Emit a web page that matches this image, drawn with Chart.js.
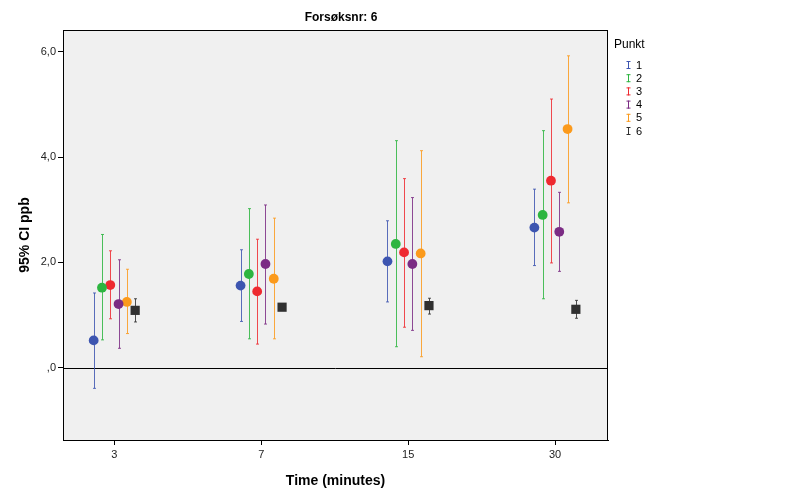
<!DOCTYPE html>
<html>
<head>
<meta charset="utf-8">
<script src="https://cdn.jsdelivr.net/npm/chart.js@4/dist/chart.umd.min.js"></script>
<style>
  html, body { margin: 0; padding: 0; background: #fff; }
  #wrap { width: 812px; height: 501px; position: relative; }
</style>
</head>
<body>
<div id="wrap"><canvas id="chart"></canvas></div>
<script>
// time points on the x axis
const times = ['3', '7', '15', '30'];
const punkter = ['1', '2', '3', '4', '5', '6'];
const colors = ['#3d55b0', '#2db540', '#ee2a30', '#7b2c84', '#fb9a1c', '#303030'];

// mean per punkt, one value per time point
const mean1 = [0.52, 1.56, 2.02, 2.66];
const mean2 = [1.52, 1.78, 2.35, 2.90];
const mean3 = [1.57, 1.45, 2.19, 3.55];
const mean4 = [1.21, 1.97, 1.97, 2.58];
const mean5 = [1.25, 1.69, 2.17, 4.53];
const mean6 = [1.09, 1.15, 1.18, 1.11];

// 95% CI lower / upper
const lo1 = [-0.39, 0.88, 1.25, 1.94];
const hi1 = [1.42, 2.24, 2.79, 3.39];
const lo2 = [0.53, 0.55, 0.40, 1.31];
const hi2 = [2.53, 3.02, 4.31, 4.50];
const lo3 = [0.93, 0.45, 0.77, 1.99];
const hi3 = [2.22, 2.44, 3.59, 5.10];
const lo4 = [0.37, 0.83, 0.71, 1.83];
const hi4 = [2.05, 3.09, 3.23, 3.33];
const lo5 = [0.65, 0.55, 0.21, 3.13];
const hi5 = [1.87, 2.84, 4.12, 5.92];
const lo6 = [0.87, 1.12, 1.02, 0.94];
const hi6 = [1.31, 1.18, 1.32, 1.28];

const yTicks = [0, 2, 4, 6];

const means = [mean1, mean2, mean3, mean4, mean5, mean6];
const lows = [lo1, lo2, lo3, lo4, lo5, lo6];
const highs = [hi1, hi2, hi3, hi4, hi5, hi6];
const step = 0.0565; // dodge between punkter within a time group

const datasets = punkter.map((p, k) => ({
  label: p,
  data: means[k].map((v, i) => ({ x: i + (k - 2.5) * step, y: v })),
  lo: lows[k],
  hi: highs[k],
  backgroundColor: colors[k],
  borderColor: colors[k],
  borderWidth: 0,
  pointStyle: k === 5 ? 'rect' : 'circle',
  pointRadius: k === 5 ? 6.5 : 4.9,
  showLine: false,
}));

const frame = {
  id: 'frame',
  beforeDraw(chart) {
    const { ctx, chartArea: a } = chart;
    ctx.save();
    ctx.fillStyle = '#f0f0f0';
    ctx.fillRect(a.left, a.top, a.right - a.left, a.bottom - a.top);
    ctx.restore();
  },
  beforeDatasetsDraw(chart) {
    const { ctx, chartArea: a, scales } = chart;
    ctx.save();
    // zero line
    const y0 = Math.round(scales.y.getPixelForValue(0)) + 0.5;
    ctx.strokeStyle = '#000';
    ctx.lineWidth = 1;
    ctx.beginPath();
    ctx.moveTo(a.left, y0);
    ctx.lineTo(a.right, y0);
    ctx.stroke();
    // error bars
    ctx.globalAlpha = 0.85;
    chart.data.datasets.forEach(ds => {
      ctx.strokeStyle = ds.borderColor;
      ds.data.forEach((pt, i) => {
        const x = Math.round(scales.x.getPixelForValue(pt.x)) + 0.5;
        const yl = scales.y.getPixelForValue(ds.lo[i]);
        const yh = scales.y.getPixelForValue(ds.hi[i]);
        ctx.beginPath();
        ctx.moveTo(x, yl); ctx.lineTo(x, yh);
        ctx.moveTo(x - 1.5, yl); ctx.lineTo(x + 1.5, yl);
        ctx.moveTo(x - 1.5, yh); ctx.lineTo(x + 1.5, yh);
        ctx.stroke();
      });
    });
    ctx.restore();
  },
  afterDraw(chart) {
    const { ctx, chartArea: a } = chart;
    ctx.save();
    ctx.strokeStyle = '#000';
    ctx.lineWidth = 1;
    ctx.strokeRect(a.left + 0.5, a.top + 0.5, a.right - a.left - 1, a.bottom - a.top);
    // title
    ctx.fillStyle = '#000';
    ctx.font = 'bold 12px "Liberation Sans", Arial, sans-serif';
    ctx.textAlign = 'center';
    ctx.textBaseline = 'middle';
    ctx.fillText('Forsøksnr: 6', 341, 18);
    // legend
    ctx.textAlign = 'left';
    ctx.font = '12px "Liberation Sans", Arial, sans-serif';
    ctx.fillText('Punkt', 614, 45);
    ctx.font = '11px "Liberation Sans", Arial, sans-serif';
    punkter.forEach((p, k) => {
      const y = 65 + k * 13.2;
      ctx.strokeStyle = colors[k];
      ctx.beginPath();
      ctx.moveTo(628.5, y - 4); ctx.lineTo(628.5, y + 4);
      ctx.moveTo(626.5, y - 3.5); ctx.lineTo(630.5, y - 3.5);
      ctx.moveTo(626.5, y + 3.5); ctx.lineTo(630.5, y + 3.5);
      ctx.stroke();
      ctx.fillStyle = '#000';
      ctx.fillText(p, 636, y + 0.5);
    });
    ctx.restore();
  }
};

const tickFont = { family: '"Liberation Sans", Arial, sans-serif', size: 11 };
const titleFont = { family: '"Liberation Sans", Arial, sans-serif', size: 14, weight: 'bold' };

new Chart(document.getElementById('chart'), {
  type: 'scatter',
  data: { datasets },
  options: {
    responsive: true,
    maintainAspectRatio: false,
    animation: false,
    layout: { padding: { top: 30, right: 204, left: 0, bottom: 0 } },
    plugins: { legend: { display: false }, tooltip: { enabled: false }, title: { display: false } },
    scales: {
      x: {
        type: 'linear',
        min: -0.35,
        max: 3.36,
        afterBuildTicks: s => { s.ticks = times.map((t, i) => ({ value: i })); },
        afterFit: s => { s.height = 61; },
        ticks: { font: tickFont, color: '#222', padding: 3, callback: v => times[v] },
        grid: { drawOnChartArea: false, tickLength: 5, tickColor: '#000' },
        border: { color: '#000' },
        title: { display: true, text: 'Time (minutes)', font: titleFont, color: '#000', padding: { top: 0, bottom: 11 } },
      },
      y: {
        min: -1.37,
        max: 6.41,
        afterBuildTicks: s => { s.ticks = yTicks.map(v => ({ value: v })); },
        afterFit: s => { s.width = 63; },
        ticks: {
          font: tickFont, color: '#222', padding: 2,
          callback: v => v === 0 ? ',0' : v.toFixed(1).replace('.', ',')
        },
        grid: { drawOnChartArea: false, tickLength: 5, tickColor: '#000' },
        border: { color: '#000' },
        title: { display: true, text: '95% CI ppb', font: titleFont, color: '#000', padding: { top: 17, bottom: 0 } },
      }
    }
  },
  plugins: [frame]
});
</script>
</body>
</html>
